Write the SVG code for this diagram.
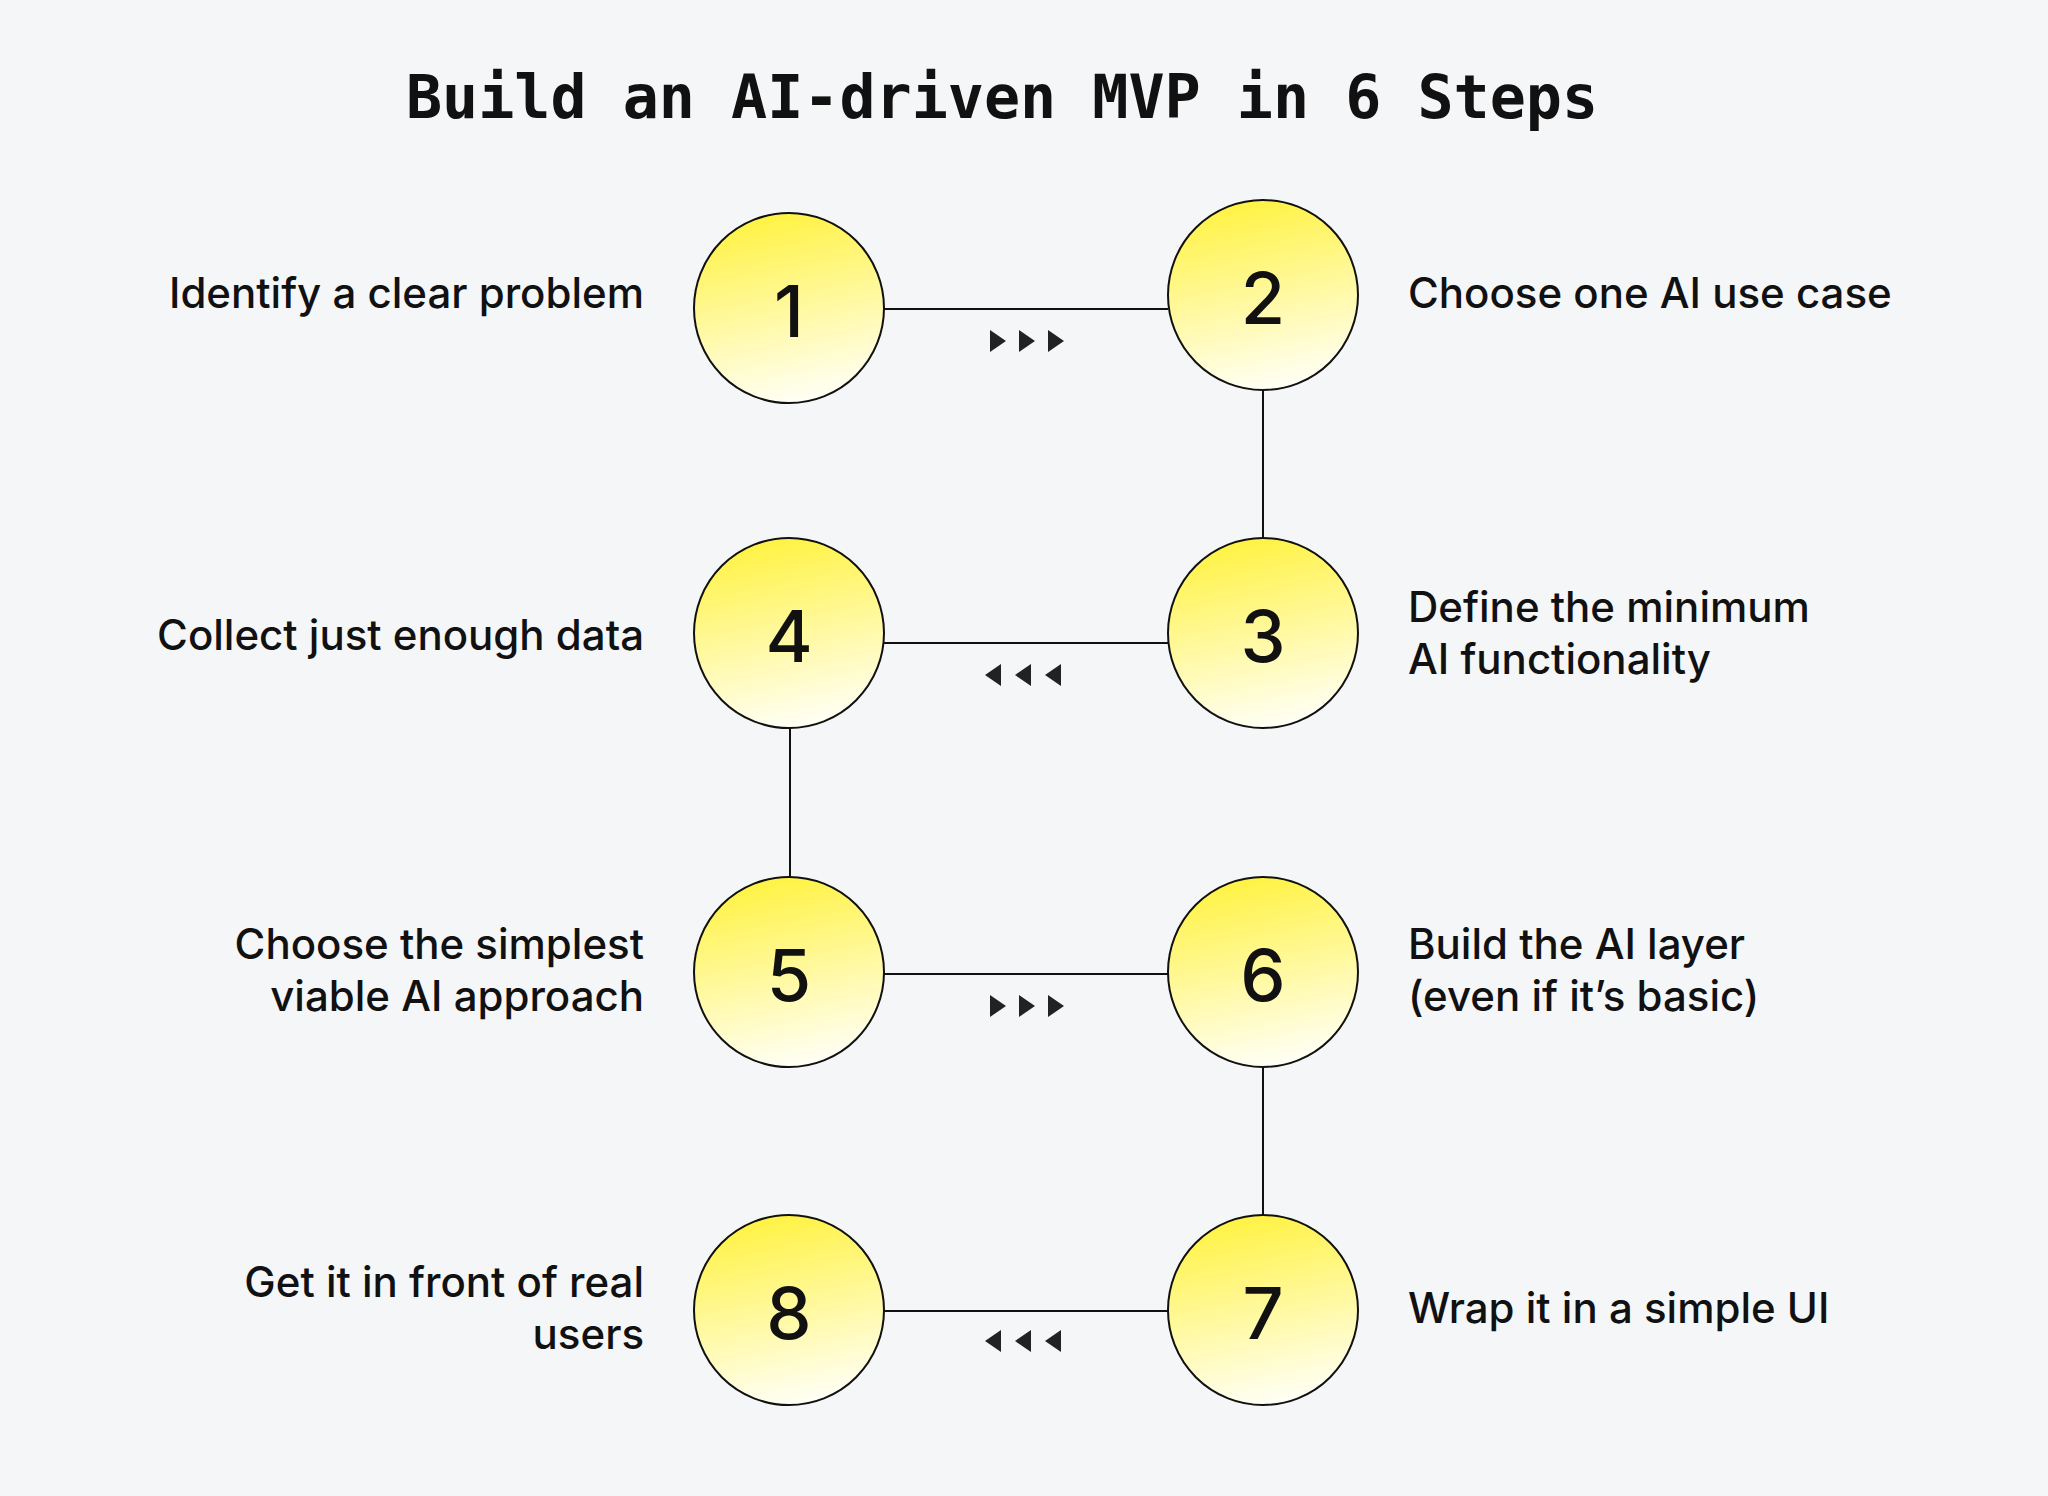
<svg xmlns="http://www.w3.org/2000/svg" width="2048" height="1496" viewBox="0 0 2048 1496">
<defs>
<linearGradient id="g" x1="0.3" y1="0" x2="0.5" y2="1">
<stop offset="0" stop-color="#fff23f"/><stop offset="1" stop-color="#fffff5"/>
</linearGradient>
<style>
.c{fill:url(#g);stroke:#111;stroke-width:2}
.n{font-family:Inter,"Liberation Sans",sans-serif;font-size:72px;font-weight:500;fill:#111;text-anchor:middle;dominant-baseline:central}
.l{font-family:Inter,"Liberation Sans",sans-serif;font-size:42px;font-weight:500;fill:#111}
.r{text-anchor:end}
.ln{stroke:#111;stroke-width:2;fill:none}
.a{fill:#222}
</style>
</defs>
<rect width="2048" height="1496" fill="#f5f6f8"/>
<text x="1002" y="118" font-family="'DejaVu Sans Mono','Liberation Mono',monospace" font-weight="bold" font-size="60" text-anchor="middle" fill="#111">Build an AI-driven MVP in 6 Steps</text>
<g id="connectors">
<line class="ln" x1="884" y1="309" x2="1168" y2="309"/>
<line class="ln" x1="1263" y1="390" x2="1263" y2="538"/>
<line class="ln" x1="884" y1="643" x2="1168" y2="643"/>
<line class="ln" x1="790" y1="728" x2="790" y2="877"/>
<line class="ln" x1="884" y1="974" x2="1168" y2="974"/>
<line class="ln" x1="1263" y1="1067" x2="1263" y2="1215"/>
<line class="ln" x1="884" y1="1311" x2="1168" y2="1311"/>
<path class="a" d="M990 330l16 11-16 11zM1019 330l16 11-16 11zM1048 330l16 11-16 11z"/>
<path class="a" d="M1001 664l-16 11 16 11zM1031 664l-16 11 16 11zM1061 664l-16 11 16 11z"/>
<path class="a" d="M990 995l16 11-16 11zM1019 995l16 11-16 11zM1048 995l16 11-16 11z"/>
<path class="a" d="M1001 1330l-16 11 16 11zM1031 1330l-16 11 16 11zM1061 1330l-16 11 16 11z"/>
</g>
<g id="n1"><circle class="c" cx="789" cy="308" r="95"/><text class="n" x="789" y="310">1</text><text class="l r" x="644" y="308">Identify a clear problem</text></g>
<g id="n2"><circle class="c" cx="1263" cy="295" r="95"/><text class="n" x="1263" y="297">2</text><text class="l" x="1408" y="308">Choose one AI use case</text></g>
<g id="n3"><circle class="c" cx="1263" cy="633" r="95"/><text class="n" x="1263" y="635">3</text><text class="l" x="1408" y="622">Define the minimum</text><text class="l" x="1408" y="674">AI functionality</text></g>
<g id="n4"><circle class="c" cx="789" cy="633" r="95"/><text class="n" x="789" y="635">4</text><text class="l r" x="644" y="650">Collect just enough data</text></g>
<g id="n5"><circle class="c" cx="789" cy="972" r="95"/><text class="n" x="789" y="974">5</text><text class="l r" x="644" y="959">Choose the simplest</text><text class="l r" x="644" y="1011">viable AI approach</text></g>
<g id="n6"><circle class="c" cx="1263" cy="972" r="95"/><text class="n" x="1263" y="974">6</text><text class="l" x="1408" y="959">Build the AI layer</text><text class="l" x="1408" y="1011">(even if it’s basic)</text></g>
<g id="n7"><circle class="c" cx="1263" cy="1310" r="95"/><text class="n" x="1263" y="1312">7</text><text class="l" x="1408" y="1323">Wrap it in a simple UI</text></g>
<g id="n8"><circle class="c" cx="789" cy="1310" r="95"/><text class="n" x="789" y="1312">8</text><text class="l r" x="644" y="1297">Get it in front of real</text><text class="l r" x="644" y="1349">users</text></g>
</svg>
